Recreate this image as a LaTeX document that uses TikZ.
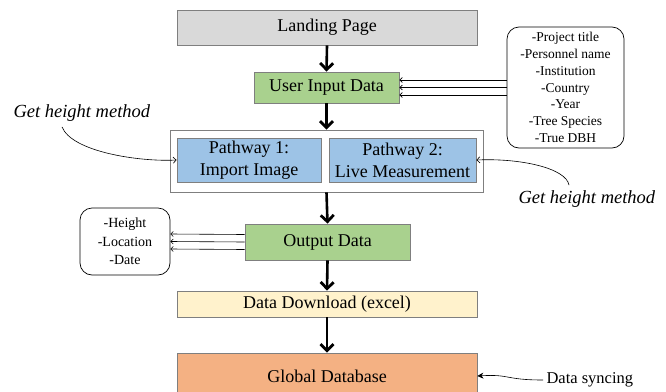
\documentclass[tikz,border=0pt]{standalone}
\usepackage{fontspec}
\setmainfont{Liberation Serif}
\usetikzlibrary{arrows.meta}
\definecolor{lpgray}{HTML}{D9D9D9}
\definecolor{ingreen}{HTML}{A9D18E}
\definecolor{pblue}{HTML}{9DC3E6}
\definecolor{dlyellow}{HTML}{FFF2CC}
\definecolor{gdorange}{HTML}{F4B183}
\definecolor{bordergray}{HTML}{7F7F7F}
\tikzset{
  box/.style={draw=bordergray, line width=0.8pt, minimum width=#1, inner sep=0pt, align=center, font=\fontsize{18}{22}\selectfont},
  listbox/.style={draw=black, line width=0.7pt, rounded corners=12pt, inner sep=0pt, align=center},
  bigarrow/.style={line width=2.6pt, -{Straight Barb[length=6.5pt,width=13pt,line width=2.8pt]}},
  thinarrow/.style={line width=0.6pt, -{Straight Barb[length=2.5pt,width=5pt]}},
  curvearrow/.style={line width=0.6pt, -{Straight Barb[length=3pt,width=6pt]}},
  note/.style={font=\fontsize{18.5}{21}\selectfont\itshape}
}
\begin{document}
\begin{tikzpicture}[x=1pt,y=-1pt]
\useasboundingbox (0,0) rectangle (666,391);
\clip (0,0) rectangle (666,391);
\node[box=300pt, minimum height=35pt, fill=lpgray] (lp) at (327,27.5) {Landing Page};
\node[box=145pt, minimum height=31pt, fill=ingreen] (uid) at (326.5,87.5) {User Input Data};
\node[listbox, minimum width=117pt, minimum height=121pt, font=\fontsize{13.5}{16.8}\selectfont] (rb) at (565.5,87.5) {-Project title\\-Personnel name\\-Institution\\-Country\\-Year\\-Tree Species\\-True DBH};
\node[draw=bordergray, line width=0.8pt, fill=white, minimum width=313pt, minimum height=62pt, inner sep=0pt] (grp) at (326.5,161) {};
\node[box=144pt, minimum height=44pt, fill=pblue] (p1) at (249,160) {Pathway 1:\\Import Image};
\node[box=147pt, minimum height=44pt, fill=pblue] (p2) at (402.5,160) {Pathway 2:\\Live Measurement};
\node[box=165pt, minimum height=36pt, fill=ingreen] (out) at (327.5,242) {Output Data};
\node[listbox, minimum width=90pt, minimum height=67pt, font=\fontsize{14}{18.5}\selectfont] (lb) at (125,241.5) {-Height\\-Location\\-Date};
\node[box=300pt, minimum height=26pt, fill=dlyellow] (dd) at (327,304) {Data Download (excel)};
\node[box=300pt, minimum height=46pt, fill=gdorange] (gd) at (327,376) {Global Database};
\node[note, anchor=west] (ghl) at (10,113) {Get height method};
\node[note, anchor=west] (ghr) at (515,199) {Get height method};
\node[font=\fontsize{16.5}{18}\selectfont, anchor=west] (ds) at (543,380) {Data syncing};
% main arrows
\draw[bigarrow] (lp.south) -- (uid.north);
\draw[bigarrow] (uid.south) -- (grp.north);
\draw[bigarrow] (grp.south) -- (out.north);
\draw[bigarrow] (out.south) -- (dd.north);
\draw[bigarrow] (dd.south) -- (gd.north);
% input lines
\foreach \d in {-7.5,0,7.5} {
  \draw[thinarrow] ([yshift=\d pt]rb.west) -- ([yshift=\d pt]uid.east);
  \draw[thinarrow] ([yshift=\d pt]out.west) -- ([yshift=\d pt]lb.east);
}
% curves
\draw[curvearrow] ([xshift=52pt,yshift=-2pt]ghl.south west) .. controls (72,152) and (140,162) .. (p1.west);
\draw[curvearrow] ([xshift=54pt,yshift=2pt]ghr.north west) .. controls (566,168) and (520,158) .. (p2.east);
\draw[line width=0.6pt, -{Stealth[length=6pt,width=6pt]}] (ds.west) .. controls (505,380) and (510,374) .. (gd.east);
\end{tikzpicture}
\end{document}
